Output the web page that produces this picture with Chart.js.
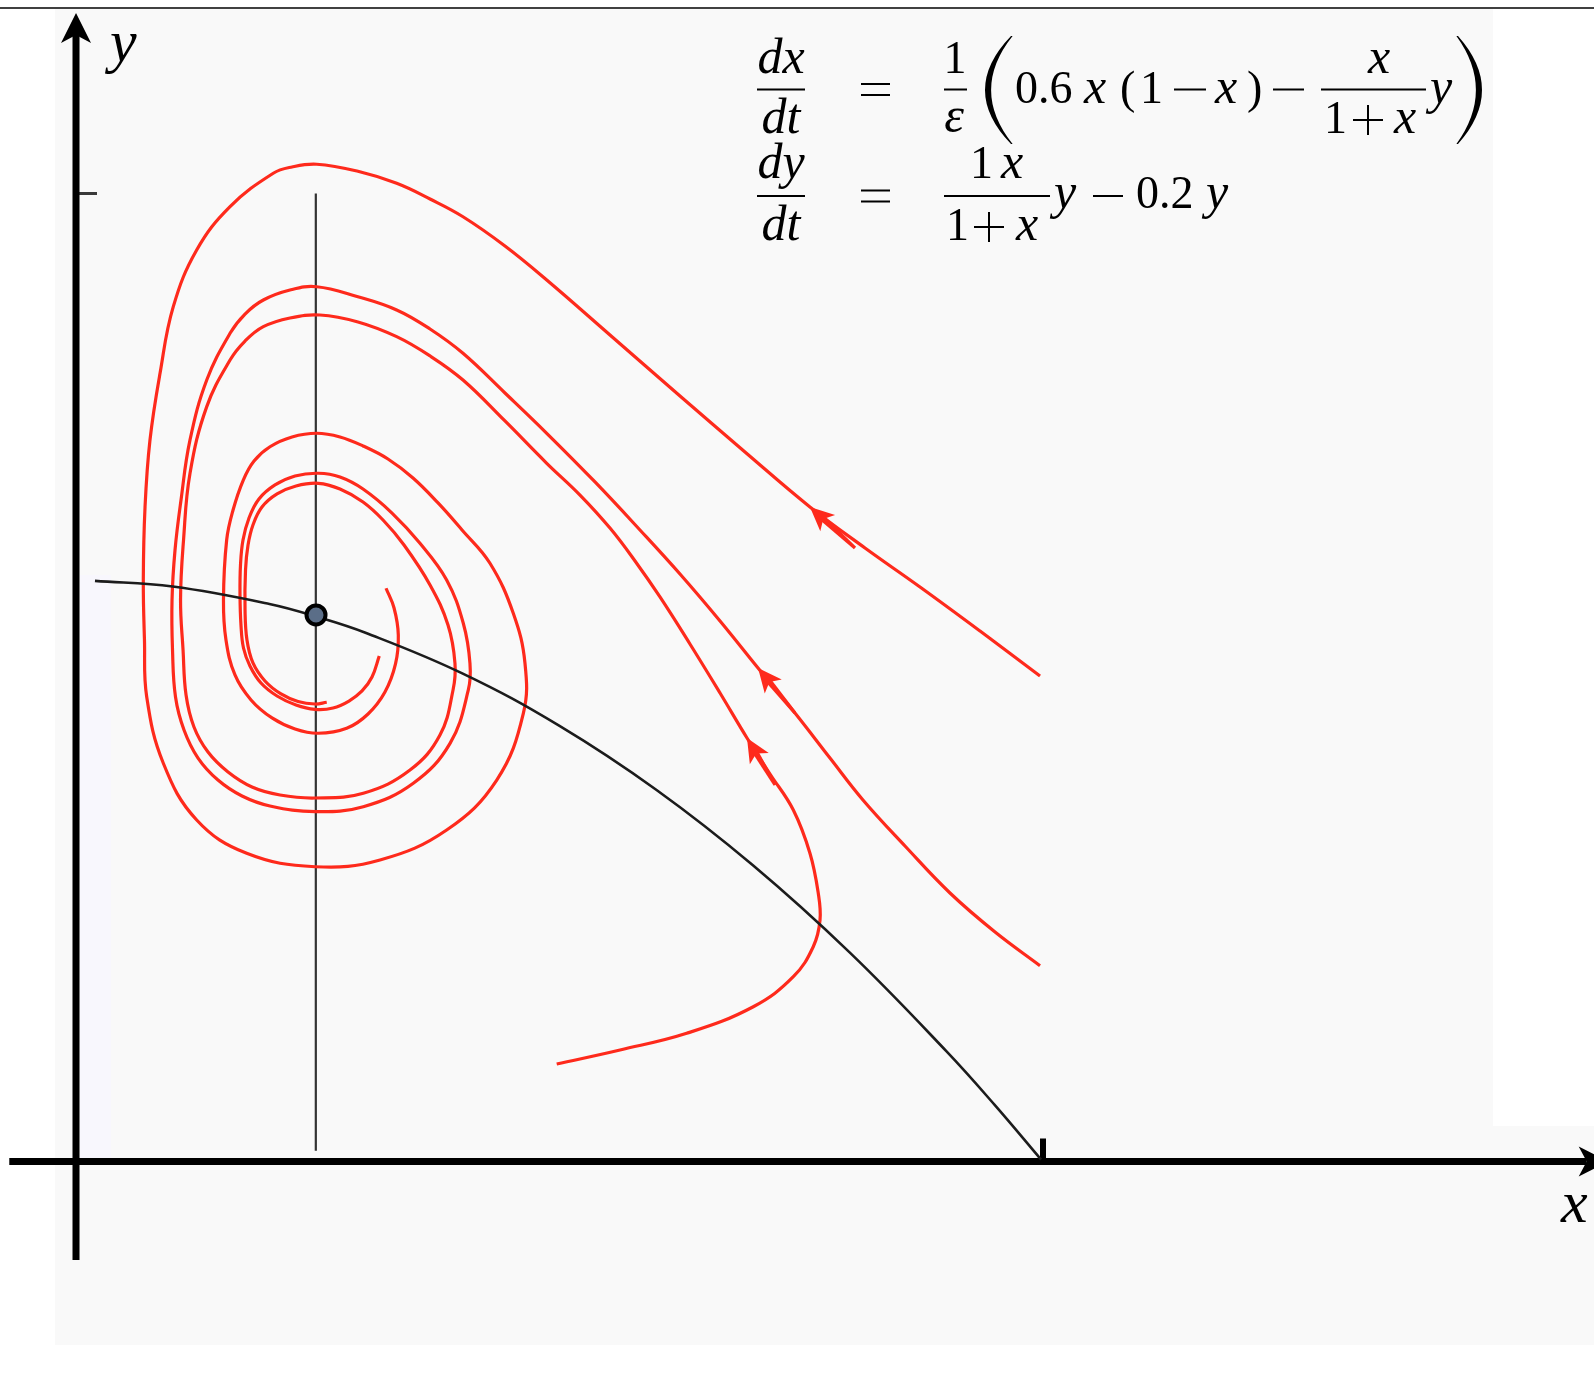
<!DOCTYPE html>
<html>
<head>
<meta charset="utf-8">
<script src="https://cdn.jsdelivr.net/npm/chart.js@4.4.0/dist/chart.umd.min.js"></script>
<style>
  html, body { margin: 0; padding: 0; background: #fff; }
  #wrap { position: relative; width: 1594px; height: 1373px; }
</style>
</head>
<body>
<div id="wrap"><canvas id="phase"></canvas></div>
<script>
// Trajectories of the predator–prey system, [x, y] in state units, in time order.
const orbitA = [
  [0.9969,0.5016],[0.9349,0.5480],[0.8728,0.5935],[0.8159,0.6338],[0.7590,0.6762],[0.6918,0.7330],
  [0.6246,0.7908],[0.5522,0.8539],[0.4868,0.9107],[0.4436,0.9458],[0.4002,0.9760],[0.3661,0.9943],
  [0.3316,1.0105],[0.2906,1.0232],[0.2489,1.0302],[0.2234,1.0274],[0.2040,1.0209],[0.1593,0.9864],
  [0.1248,0.9416],[0.1006,0.8831],[0.0869,0.8143],[0.0765,0.7454],[0.0714,0.6764],[0.0696,0.6007],
  [0.0708,0.5387],[0.0731,0.4802],[0.0903,0.4114],[0.1248,0.3528],[0.1765,0.3184],[0.2472,0.3045],
  [0.3144,0.3115],[0.3833,0.3425],[0.4351,0.3941],[0.4626,0.4630],[0.4643,0.5147],[0.4522,0.5663],
  [0.4281,0.6180],[0.3992,0.6524],[0.3744,0.6803],[0.3485,0.7061],[0.3226,0.7257],[0.2968,0.7392],
  [0.2730,0.7485],[0.2489,0.7523],[0.2234,0.7485],[0.2006,0.7384],[0.1841,0.7237],[0.1730,0.7040],
  [0.1624,0.6730],[0.1558,0.6420],[0.1525,0.5801],[0.1551,0.5387],[0.1644,0.5026],[0.1810,0.4768],
  [0.2027,0.4582],[0.2265,0.4468],[0.2503,0.4424],[0.2799,0.4475],[0.3020,0.4623],[0.3195,0.4850],
  [0.3304,0.5140],[0.3333,0.5439],[0.3289,0.5718],[0.3206,0.5922]
];
const orbitB = [
  [0.9969,0.2023],[0.9504,0.2371],[0.9038,0.2774],[0.8573,0.3259],[0.8138,0.3735],[0.7797,0.4168],
  [0.7435,0.4633],[0.7053,0.5098],[0.6660,0.5584],[0.6246,0.6069],[0.5832,0.6524],[0.5367,0.7020],
  [0.4868,0.7523],[0.4436,0.7939],[0.4002,0.8349],[0.3661,0.8600],[0.3316,0.8797],[0.2906,0.8936],
  [0.2489,0.9037],[0.2213,0.9003],[0.1937,0.8900],[0.1748,0.8755],[0.1593,0.8556],[0.1352,0.8073],
  [0.1179,0.7454],[0.1086,0.6834],[0.1024,0.6317],[0.0993,0.5801],[0.0998,0.5284],[0.1029,0.4799],
  [0.1117,0.4458],[0.1262,0.4168],[0.1468,0.3941],[0.1717,0.3776],[0.2006,0.3673],[0.2472,0.3614],
  [0.2971,0.3665],[0.3488,0.3907],[0.3868,0.4320],[0.4057,0.4871],[0.4074,0.5147],[0.4005,0.5560],
  [0.3833,0.6007],[0.3557,0.6386],[0.3268,0.6699],[0.2968,0.6947],[0.2730,0.7071],[0.2506,0.7110],
  [0.2265,0.7082],[0.2058,0.6989],[0.1892,0.6844],[0.1789,0.6648],[0.1727,0.6420],[0.1701,0.6162],
  [0.1696,0.5852],[0.1706,0.5542],[0.1732,0.5305],[0.1799,0.5119],[0.1913,0.4943],[0.2079,0.4809],
  [0.2275,0.4716],[0.2472,0.4671],[0.2658,0.4685],[0.2823,0.4757],[0.2958,0.4861],[0.3061,0.5005],
  [0.3136,0.5222]
];
const orbitC = [
  [0.4971,0.1007],[0.5626,0.1152],[0.6315,0.1324],[0.7004,0.1599],[0.7418,0.1909],[0.7624,0.2219],
  [0.7694,0.2495],[0.7676,0.2771],[0.7590,0.3184],[0.7418,0.3631],[0.7177,0.4003],[0.6939,0.4375],
  [0.6660,0.4840],[0.6349,0.5346],[0.6039,0.5832],[0.5781,0.6204],[0.5522,0.6544],[0.5212,0.6885],
  [0.4868,0.7213],[0.4436,0.7650],[0.4002,0.8073],[0.3661,0.8322],[0.3316,0.8521],[0.2916,0.8673],
  [0.2523,0.8745],[0.2213,0.8714],[0.1937,0.8624],[0.1748,0.8476],[0.1593,0.8280],[0.1352,0.7798],
  [0.1179,0.7110],[0.1112,0.6420],[0.1081,0.5801],[0.1107,0.5284],[0.1138,0.4819],[0.1220,0.4489],
  [0.1365,0.4230],[0.1572,0.4024],[0.1820,0.3869],[0.2110,0.3786],[0.2472,0.3755],[0.2971,0.3804],
  [0.3454,0.4044],[0.3764,0.4406],[0.3899,0.4871],[0.3919,0.5147],[0.3847,0.5542],[0.3661,0.5956],
  [0.3392,0.6369],[0.3175,0.6627],[0.2968,0.6813],[0.2730,0.6947],[0.2506,0.7006],[0.2275,0.6978],
  [0.2079,0.6896],[0.1923,0.6761],[0.1830,0.6576],[0.1779,0.6369],[0.1753,0.6111],[0.1748,0.5697],
  [0.1768,0.5387],[0.1830,0.5150],[0.1954,0.4964],[0.2120,0.4830],[0.2296,0.4752],[0.2472,0.4726],
  [0.2593,0.4744]
];

// Nullclines: dx/dt = 0 (curve) and dy/dt = 0 (vertical line).
const xNullcline = [
  [0.0196,0.5998],[0.1,0.594],[0.2,0.576],[0.25,0.5625],[0.3,0.546],[0.4,0.504],[0.5,0.45],
  [0.6,0.384],[0.7,0.306],[0.8,0.216],[0.9,0.114],[0.95,0.0585],[0.998,0.002]
];
const yNullcline = [[0.248,1.0],[0.248,0.011]];

// Interior equilibrium.
const equilibrium = [0.2482, 0.5646];

// Direction arrows on the trajectories: tip and a point behind it.
const arrowTips  = [[0.7590,0.6762],[0.7053,0.5098],[0.6939,0.4375]];
const arrowTails = [[0.8056,0.6338],[0.7435,0.4633],[0.7229,0.3889]];

// Axis extents and ticks (state units).
const xAxisSpan = [-0.069, 1.585];
const yAxisSpan = [-0.1017, 1.1865];
const xTicks = [1];
const yTicks = [1];

const RED = '#fe2a1c';
const FONT = '"Liberation Serif", "DejaVu Serif", serif';
const toXY = arr => arr.map(p => ({ x: p[0], y: p[1] }));

function stealth(c, tx, ty, ux, uy, L, W, N) {
  const nx = -uy, ny = ux;
  const bx = tx - ux * L, by = ty - uy * L;
  c.beginPath();
  c.moveTo(tx, ty);
  c.lineTo(bx + nx * W, by + ny * W);
  c.lineTo(tx - ux * (L - N), ty - uy * (L - N));
  c.lineTo(bx - nx * W, by - ny * W);
  c.closePath();
  c.fill();
}

const paperPlugin = {
  id: 'paper',
  beforeDraw(chart) {
    const c = chart.ctx;
    c.save();
    c.fillStyle = '#ffffff';
    c.fillRect(0, 0, chart.width, chart.height);
    c.fillStyle = '#f9f9f9';
    c.fillRect(55, 9, 1438, 1336);
    c.fillRect(1493, 1126, chart.width - 1493, 219);
    c.fillStyle = '#f8f7fd';
    c.fillRect(80, 575, 31, 584);
    c.strokeStyle = '#000';
    c.lineWidth = 1.5;
    c.beginPath(); c.moveTo(0, 8); c.lineTo(chart.width, 8); c.stroke();
    c.restore();
  }
};

const axesPlugin = {
  id: 'axes',
  beforeDatasetsDraw(chart) {
    const sx = chart.scales.x, sy = chart.scales.y, c = chart.ctx;
    const ox = sx.getPixelForValue(0), oy = sy.getPixelForValue(0);
    c.save();
    c.strokeStyle = '#000'; c.fillStyle = '#000'; c.lineCap = 'butt';
    c.lineWidth = 6;
    xTicks.forEach(v => {
      const p = sx.getPixelForValue(v);
      c.beginPath(); c.moveTo(p, oy); c.lineTo(p, oy - 23); c.stroke();
    });
    c.strokeStyle = '#3a3a3a'; c.lineWidth = 3;
    yTicks.forEach(v => {
      const p = sy.getPixelForValue(v);
      c.beginPath(); c.moveTo(ox, p); c.lineTo(ox + 21, p); c.stroke();
    });
    c.strokeStyle = '#000'; c.lineWidth = 7;
    const xs = sx.getPixelForValue(xAxisSpan[0]), xe = sx.getPixelForValue(xAxisSpan[1]);
    c.beginPath(); c.moveTo(xs, oy); c.lineTo(xe - 22, oy); c.stroke();
    stealth(c, xe, oy, 1, 0, 30, 15, 8);
    const ys = sy.getPixelForValue(yAxisSpan[0]), ye = sy.getPixelForValue(yAxisSpan[1]);
    c.beginPath(); c.moveTo(ox, ys); c.lineTo(ox, ye + 22); c.stroke();
    stealth(c, ox, ye, 0, -1, 30, 15, 8);
    c.restore();
  }
};

const arrowPlugin = {
  id: 'flowArrows',
  afterDatasetsDraw(chart) {
    const sx = chart.scales.x, sy = chart.scales.y, c = chart.ctx;
    c.save();
    c.fillStyle = RED;
    arrowTips.forEach((tip, i) => {
      const tx = sx.getPixelForValue(tip[0]), ty = sy.getPixelForValue(tip[1]);
      const bx = sx.getPixelForValue(arrowTails[i][0]), by = sy.getPixelForValue(arrowTails[i][1]);
      let ux = tx - bx, uy = ty - by;
      const len = Math.hypot(ux, uy); ux /= len; uy /= len;
      const nx = -uy, ny = ux;
      const L = 24, W = 11, N = 6;
      stealth(c, tx, ty, ux, uy, L, W, N);
      // thickened shaft behind the head
      const sx0 = tx - ux * (L - N - 2), sy0 = ty - uy * (L - N - 2);
      const w0 = 3.0, w1 = 1.6;
      c.beginPath();
      c.moveTo(sx0 + nx * w0, sy0 + ny * w0);
      c.lineTo(bx + nx * w1, by + ny * w1);
      c.lineTo(bx - nx * w1, by - ny * w1);
      c.lineTo(sx0 - nx * w0, sy0 - ny * w0);
      c.closePath(); c.fill();
    });
    c.restore();
  }
};

function txt(c, s, x, y, italic, align, size) {
  c.font = (italic ? 'italic ' : '') + (size || (italic ? 50 : 46)) + 'px ' + FONT;
  c.textAlign = align || 'left';
  c.fillText(s, x, y);
}
function rule(c, x0, x1, y, w) {
  c.lineWidth = w || 2;
  c.beginPath(); c.moveTo(x0, y); c.lineTo(x1, y); c.stroke();
}
function plus(c, cx, cy, h) {
  rule(c, cx - h, cx + h, cy);
  c.beginPath(); c.moveTo(cx, cy - h); c.lineTo(cx, cy + h); c.stroke();
}
function bigParen(c, xEnd, xMid, y0, y1, dir) {
  // dir = -1 for "(", +1 for ")"
  const ym = (y0 + y1) / 2;
  const outerC = 2 * xMid - xEnd;
  const innerC = 2 * (xMid - dir * 4.5) - xEnd;
  c.beginPath();
  c.moveTo(xEnd, y0);
  c.quadraticCurveTo(outerC, ym, xEnd, y1);
  c.lineTo(xEnd - dir * 1.6, y1);
  c.quadraticCurveTo(innerC - dir * 1.6, ym, xEnd - dir * 1.6, y0);
  c.closePath();
  c.fill();
}

const textPlugin = {
  id: 'equations',
  afterDraw(chart) {
    const c = chart.ctx;
    c.save();
    c.fillStyle = '#000'; c.strokeStyle = '#000';
    c.textBaseline = 'alphabetic';

    // axis names
    txt(c, 'y', 110, 61, true, 'left', 60);
    txt(c, 'x', 1561, 1222, true, 'left', 60);

    // dx/dt = 1/ε ( 0.6 x (1 − x) − x/(1+x) y )
    txt(c, 'dx', 781, 73, true, 'center');
    rule(c, 757, 805, 89.5);
    txt(c, 'dt', 781, 133, true, 'center');
    rule(c, 861, 890, 84); rule(c, 861, 890, 95);
    txt(c, '1', 955, 73, false, 'center');
    rule(c, 944, 967, 89.5);
    txt(c, 'ε', 954, 132, true, 'center');
    bigParen(c, 1011, 985, 36, 144, -1);
    txt(c, '0.6', 1015, 103, false);
    txt(c, 'x', 1084, 103, true);
    txt(c, '(', 1120, 103, false);
    txt(c, '1', 1140, 103, false);
    rule(c, 1174, 1206, 89.5);
    txt(c, 'x', 1215, 103, true);
    txt(c, ')', 1247, 103, false);
    rule(c, 1273, 1304, 89.5);
    txt(c, 'x', 1379, 73, true, 'center');
    rule(c, 1321, 1426, 89.5);
    txt(c, '1', 1324, 133, false);
    plus(c, 1368, 120, 15);
    txt(c, 'x', 1394, 133, true);
    txt(c, 'y', 1430, 103, true);
    bigParen(c, 1458, 1482, 36, 144, 1);

    // dy/dt = (1 x)/(1+x) y − 0.2 y
    txt(c, 'dy', 781, 178, true, 'center');
    rule(c, 757, 805, 196);
    txt(c, 'dt', 781, 240, true, 'center');
    rule(c, 861, 890, 190.5); rule(c, 861, 890, 201.5);
    txt(c, '1', 970, 178, false);
    txt(c, 'x', 1001, 178, true);
    rule(c, 944, 1050, 196);
    txt(c, '1', 946, 240, false);
    plus(c, 989, 227, 15);
    txt(c, 'x', 1016, 240, true);
    txt(c, 'y', 1054, 208, true);
    rule(c, 1093, 1123, 196);
    txt(c, '0.2', 1136, 208, false);
    txt(c, 'y', 1206, 208, true);
    c.restore();
  }
};

new Chart(document.getElementById('phase'), {
  type: 'scatter',
  data: {
    datasets: [
      { label: 'equilibrium', data: toXY([equilibrium]), showLine: false,
        pointRadius: 9.5, pointBorderWidth: 4, pointBackgroundColor: '#5b6e88', pointBorderColor: '#000' },
      { label: 'dx/dt = 0', data: toXY(xNullcline), showLine: true, borderColor: '#1c1c1c',
        borderWidth: 2.6, tension: 0.4, pointRadius: 0 },
      { label: 'orbit A', data: toXY(orbitA), showLine: true, borderColor: RED,
        borderWidth: 3.2, tension: 0.4, pointRadius: 0 },
      { label: 'orbit B', data: toXY(orbitB), showLine: true, borderColor: RED,
        borderWidth: 3.2, tension: 0.4, pointRadius: 0 },
      { label: 'orbit C', data: toXY(orbitC), showLine: true, borderColor: RED,
        borderWidth: 3.2, tension: 0.4, pointRadius: 0 },
      { label: 'dy/dt = 0', data: toXY(yNullcline), showLine: true, borderColor: '#333',
        borderWidth: 2.2, tension: 0, pointRadius: 0 }
    ]
  },
  options: {
    responsive: true,
    maintainAspectRatio: false,
    animation: false,
    events: [],
    layout: { padding: 0, autoPadding: false },
    plugins: { legend: { display: false }, tooltip: { enabled: false } },
    scales: {
      x: { type: 'linear', display: false, min: -0.0786, max: 1.5698 },
      y: { type: 'linear', display: false, min: -0.2185, max: 1.1999 }
    }
  },
  plugins: [paperPlugin, axesPlugin, arrowPlugin, textPlugin]
});
</script>
</body>
</html>
